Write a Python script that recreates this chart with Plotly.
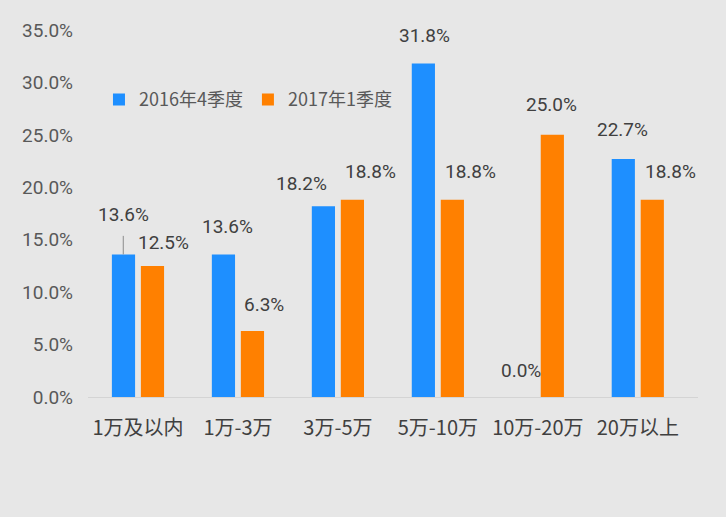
import plotly.graph_objects as go

categories = ["1万及以内", "1万-3万", "3万-5万", "5万-10万", "10万-20万", "20万以上"]
series_names = ["2016年4季度", "2017年1季度"]
q4_2016 = [13.6, 13.6, 18.2, 31.8, 0.0, 22.7]
q1_2017 = [12.5, 6.3, 18.8, 18.8, 25.0, 18.8]
y_ticks = [0, 5, 10, 15, 20, 25, 30, 35]
y_tick_labels = [f"{v:.1f}%" for v in y_ticks]

colors = ["#1E8FFF", "#FF8000"]
num_font = "Roboto, Arial, sans-serif"
cjk_font = "Noto Sans CJK SC, sans-serif"

fig = go.Figure()
for name, vals, col in zip(series_names, [q4_2016, q1_2017], colors):
    fig.add_trace(go.Bar(x=categories, y=vals, name=name, marker_color=col,
                         marker_line_width=0))

# label nudges (px): per series, per category
nudge_x = [[0, 4, -22, 1, -2, -1], [11, 11, 18, 18, -1, 18]]
nudge_y = [[40, 28, 23, 28, 27, 29], [23, 26, 28, 28, 30, 28]]
bar_off = [-14.7, 14.7]
for s, vals in enumerate([q4_2016, q1_2017]):
    for i, v in enumerate(vals):
        fig.add_annotation(x=categories[i], y=v, text=f"{v:.1f}%", showarrow=False,
                           xshift=bar_off[s] + nudge_x[s][i], yshift=nudge_y[s][i],
                           yanchor="middle", font=dict(family=num_font, size=19, color="#404040"))

# leader line for first label
fig.add_annotation(x=categories[0], y=q4_2016[0], ax=0, ay=-20, text="", showarrow=True,
                   arrowhead=0, arrowwidth=1, arrowcolor="#8c8c8c", xshift=bar_off[0],
                   axref="pixel", ayref="pixel")

fig.update_layout(
    width=726, height=517,
    paper_bgcolor="#e7e7e7", plot_bgcolor="#e7e7e7",
    margin=dict(l=88, r=28, t=30, b=120, autoexpand=False),
    barmode="group", bargap=0.42, bargroupgap=0.2,
    showlegend=True,
    legend=dict(orientation="h", x=0.018, y=0.81, xanchor="left", yanchor="middle",
                bgcolor="rgba(0,0,0,0)", itemwidth=30,
                font=dict(family=cjk_font, size=18, color="#595959")),
    xaxis=dict(showgrid=False, showline=True, linecolor="#d4d4d4", linewidth=1,
               tickfont=dict(family=cjk_font, size=20, color="#404040"),
               ticklabelstandoff=13, zeroline=False, automargin=False),
    yaxis=dict(range=[0, 35], tickvals=y_ticks, ticktext=y_tick_labels,
               showgrid=False, zeroline=False, showline=False, automargin=False,
               tickfont=dict(family=num_font, size=19, color="#595959"),
               ticklabelstandoff=14),
)

fig.write_html("out.html", config={"displayModeBar": False},
               post_script="document.body.style.margin='0';")
